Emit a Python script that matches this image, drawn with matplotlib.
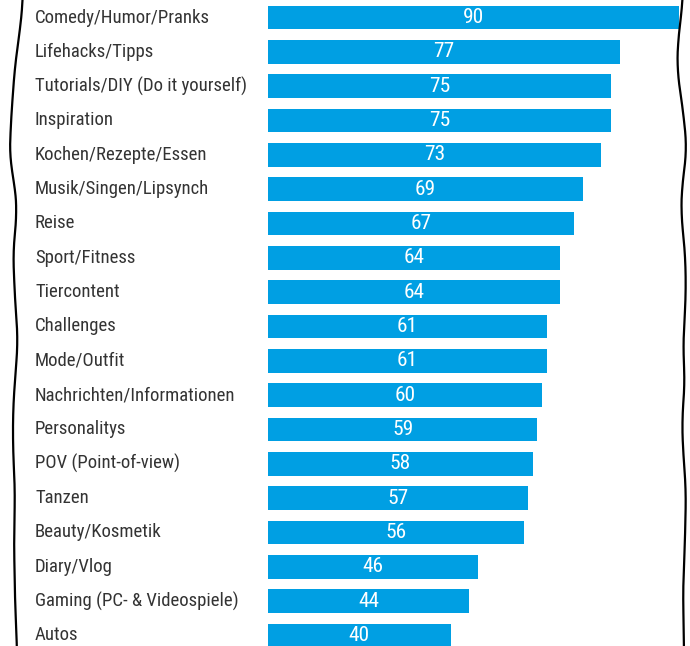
import matplotlib
matplotlib.use("Agg")
import matplotlib.pyplot as plt
import matplotlib.transforms as mtransforms
from matplotlib import font_manager as fm
import numpy as np

categories = [
    "Comedy/Humor/Pranks", "Lifehacks/Tipps", "Tutorials/DIY (Do it yourself)",
    "Inspiration", "Kochen/Rezepte/Essen", "Musik/Singen/Lipsynch", "Reise",
    "Sport/Fitness", "Tiercontent", "Challenges", "Mode/Outfit",
    "Nachrichten/Informationen", "Personalitys", "POV (Point-of-view)",
    "Tanzen", "Beauty/Kosmetik", "Diary/Vlog", "Gaming (PC- & Videospiele)", "Autos",
]
values = [90, 77, 75, 75, 73, 69, 67, 64, 64, 61, 61, 60, 59, 58, 57, 56, 46, 44, 40]


def pick_narrow_font():
    prefs = ["liberationsansnarrow-regular", "robotocondensed-regular",
             "dejavusanscondensed.", "notosans-condensed.", "notosans-condensedregular",
             "opensans-condensed", "opensanscondensed"]
    files = [f.fname for f in fm.fontManager.ttflist]
    low = [(f, f.lower().replace("_", "").split("/")[-1]) for f in files]
    for p in prefs:
        for f, l in low:
            if l.startswith(p):
                return fm.FontProperties(fname=f)
    for f, l in low:
        if ("narrow" in l or "condensed" in l) and "bold" not in l and "italic" not in l \
                and "oblique" not in l and "light" not in l and "mono" not in l:
            return fm.FontProperties(fname=f)
    return fm.FontProperties(family="DejaVu Sans", stretch="condensed")


fp = pick_narrow_font()

W, H = 690, 646
fig = plt.figure(figsize=(W / 100, H / 100), dpi=100)
fig.patch.set_facecolor("white")

# fit label font size so that the first label is ~176 px wide
renderer = fig.canvas.get_renderer()
t = fig.text(0, 0, categories[0], fontproperties=fp, fontsize=15)
w = t.get_window_extent(renderer).width
t.remove()
label_size = min(15.5, 15 * 176 / w)
t = fig.text(0, 0, "90", fontproperties=fp, fontsize=15)
wn = t.get_window_extent(renderer).width
t.remove()
num_size = min(17, 15 * 21 / wn)

x0 = 268
px_per_unit = (679 - 268) / 90
row = 34.33
c0 = 17.5
ax = fig.add_axes([x0 / W, 0, 1 - x0 / W, 1])
ax.set_xlim(0, (W - x0) / px_per_unit)
ax.set_ylim((H - c0) / row, -c0 / row)
ax.axis("off")

y = np.arange(len(categories))
ax.barh(y, values, height=0.69, color="#009FE3", edgecolor="none")

for yi, v in zip(y, values):
    ax.text(v / 2, yi, str(v), ha="center", va="center", color="white",
            fontproperties=fp, fontsize=num_size)

trans = mtransforms.blended_transform_factory(fig.transFigure, ax.transData)
for yi, c in zip(y, categories):
    ax.text(35 / W, yi, c, transform=trans, ha="left", va="center",
            color="#333333", fontproperties=fp, fontsize=label_size)

# decorative wavy borders (hand-drawn look)
ly = np.array([0, 30, 65, 120, 160, 185, 215, 250, 300, 340, 380, 410, 450, 490, 540, 600, 646])
lx = np.array([23, 20, 15, 11, 9.5, 15, 17, 13, 15, 18, 15, 13, 13, 15, 14, 15, 17])
ry = np.array([0, 40, 70, 110, 150, 185, 215, 250, 290, 350, 380, 420, 450, 490, 540, 590, 646])
rx = np.array([683, 678, 677, 683, 687, 682, 681, 685, 686, 683, 685, 682, 683, 686, 685, 683, 684])
yy = np.linspace(0, H, 400)


def smooth(xs, ys):
    xi = np.interp(yy, ys, xs)
    k = np.ones(25) / 25
    xp = np.pad(xi, 12, mode="edge")
    return np.convolve(xp, k, mode="valid")


for xs, ys in [(lx, ly), (rx, ry)]:
    xv = smooth(xs, ys)
    fig.add_artist(plt.Line2D(xv / W, 1 - yy / H, color="black", lw=1.6,
                              transform=fig.transFigure))

fig.savefig("out.png", dpi=100, facecolor="white")
